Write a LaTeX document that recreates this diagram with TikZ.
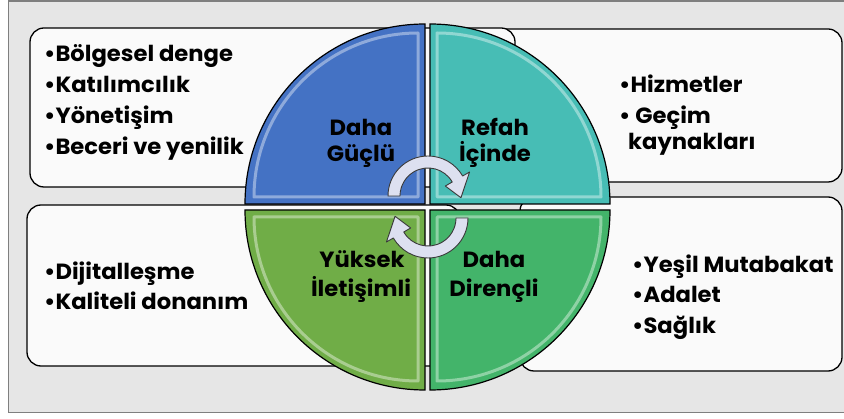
\documentclass[tikz,border=0pt]{standalone}
\usepackage{fontspec}
\setmainfont{Poppins}[FakeStretch=1.03]
\definecolor{framebg}{HTML}{E6E6E6}
\definecolor{framegray}{HTML}{7F7F7F}
\definecolor{boxfill}{HTML}{FAFAFA}
\definecolor{qblue}{HTML}{4472C4}
\definecolor{qteal}{HTML}{47BDB5}
\definecolor{qolive}{HTML}{70AD47}
\definecolor{qgreen}{HTML}{43B46A}
\definecolor{arrowfill}{HTML}{DDE0F0}
\definecolor{arrowline}{HTML}{3A3A3A}
\newcommand\drawquad[7]{%
  \draw[quad, fill=#4] (#1,#2) -- ++(#3:180) arc[start angle=#3, end angle=#5, radius=180] -- cycle;
  \draw[white, opacity=0.4, line width=3pt, line join=round] (#6,#7) -- ++(#3:164) arc[start angle=#3, end angle=#5, radius=164] -- cycle;
}
\begin{document}
\begin{tikzpicture}[x=1pt,y=-1pt,
  box/.style={draw=black, line width=1.3pt, fill=boxfill, rounded corners=14pt, inner sep=0pt},
  listtxt/.style={anchor=base west, inner sep=0pt, font=\bfseries\fontsize{22}{26}\selectfont},
  qlabel/.style={anchor=base, inner sep=0pt, font=\bfseries\fontsize{22}{26}\selectfont},
  quad/.style={draw=black, line width=1.2pt},
  cyc/.style={draw=arrowline, line width=0.9pt, fill=arrowfill, line join=round}]
\useasboundingbox (0,0) rectangle (844,419);
\clip (0,0) rectangle (844,419);
\fill[white] (0,0) rectangle (844,419);
\draw[fill=framebg, draw=framegray, line width=1.5pt] (8.5,1) rectangle (860,412.5);

% boxes
\node[box, minimum width=502pt, minimum height=153pt] (trbox) at (591,105.5) {};
\node[box, minimum width=485pt, minimum height=159pt] (tlbox) at (272.5,107.5) {};
\node[box, minimum width=322pt, minimum height=174pt] (brbox) at (681,284) {};
\node[box, minimum width=433pt, minimum height=161pt] (blbox) at (243.5,285.5) {};

% quadrants
\drawquad{425}{204}{180}{qblue}{270}{418}{197}
\drawquad{430}{204}{270}{qteal}{360}{437}{197}
\drawquad{430}{210}{0}{qgreen}{90}{437}{217}
\drawquad{425}{210}{90}{qolive}{180}{418}{217}

% cycle arrows
\begin{scope}[shift={(428,196)}]
\draw[cyc] (180:40) arc[start angle=180, end angle=330, radius=40] -- (330:48) -- (3:33) -- (330:20) -- (330:28) arc[start angle=330, end angle=180, radius=28] -- cycle;
\end{scope}
\begin{scope}[shift={(428,218)}]
\draw[cyc] (0:40) arc[start angle=0, end angle=150, radius=40] -- (150:48) -- (183:33) -- (150:20) -- (150:28) arc[start angle=150, end angle=0, radius=28] -- cycle;
\end{scope}

% quadrant labels
\node[qlabel] (q1a) at (361,136) {Daha};
\node[qlabel] (q1b) at (361,162) {Güçlü};
\node[qlabel] (q2a) at (495,136) {Refah};
\node[qlabel] (q2b) at (495,162) {İçinde};
\node[qlabel] (q3a) at (362,268) {Yüksek};
\node[qlabel] (q3b) at (361,297) {İletişimli};
\node[qlabel] (q4a) at (494,268) {Daha};
\node[qlabel] (q4b) at (494,297) {Dirençli};

% lists
\node[listtxt] (tl1) at (44,62) {•Bölgesel denge};
\node[listtxt] (tl2) at (44,93) {•Katılımcılık};
\node[listtxt] (tl3) at (44,124) {•Yönetişim};
\node[listtxt] (tl4) at (44,155) {•Beceri ve yenilik};
\node[listtxt] (tr1) at (619,93) {•Hizmetler};
\node[listtxt] (tr2) at (619,124) {•\ Geçim};
\node[listtxt] (tr3) at (628,150) {kaynakları};
\node[listtxt] (bl1) at (44,280) {•Dijitalleşme};
\node[listtxt] (bl2) at (44,310) {•Kaliteli donanım};
\node[listtxt] (br1) at (632,273) {•Yeşil Mutabakat};
\node[listtxt] (br2) at (632,303) {•Adalet};
\node[listtxt] (br3) at (632,334) {•Sağlık};
\end{tikzpicture}
\end{document}
